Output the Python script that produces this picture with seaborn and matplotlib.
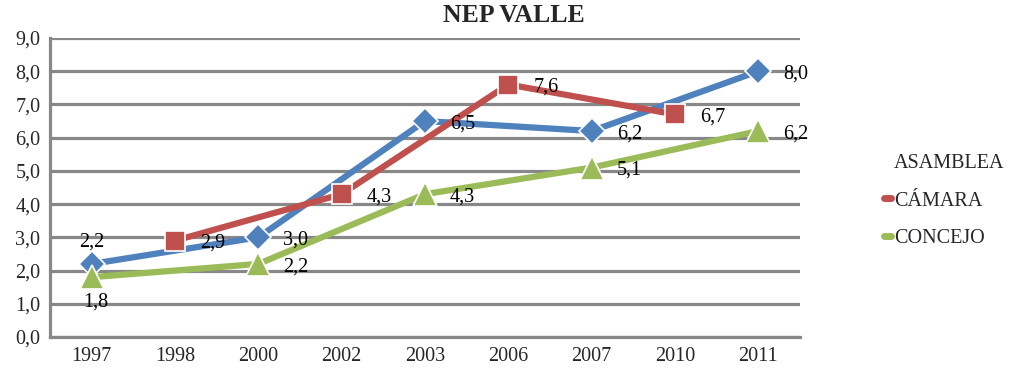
import pandas as pd
import numpy as np
import matplotlib
matplotlib.use("Agg")
import matplotlib.pyplot as plt
from matplotlib.lines import Line2D
import seaborn as sns

# Datos
anios = ['1997', '1998', '2000', '2002', '2003', '2006', '2007', '2010', '2011']
asamblea = [2.2, None, 3.0, None, 6.5, None, 6.2, None, 8.0]
camara = [None, 2.9, None, 4.3, None, 7.6, None, 6.7, None]
concejo = [1.8, None, 2.2, None, 4.3, None, 5.1, None, 6.2]
series = ['ASAMBLEA', 'CÁMARA', 'CONCEJO']
colores = ['#4F81BD', '#C0504D', '#9BBB59']
marcadores = ['D', 's', '^']
tam_marcador = [13, 15, 17]

filas = []
for nombre, valores in zip(series, [asamblea, camara, concejo]):
    for i, v in enumerate(valores):
        if v is not None:
            filas.append({'pos': i, 'anio': anios[i], 'valor': v, 'serie': nombre})
df = pd.DataFrame(filas)

sns.set_style("white")
plt.rcParams['font.family'] = ['Liberation Serif', 'DejaVu Serif']
fs = 14.5

fig = plt.figure(figsize=(10.19, 3.76), dpi=100)
ax = fig.add_axes([50 / 1019, 1 - 337 / 376, 750 / 1019, 299 / 376])

for nombre, color, m, ms in zip(series, colores, marcadores, tam_marcador):
    d = df[df['serie'] == nombre]
    sns.lineplot(data=d, x='pos', y='valor', ax=ax, color=color, linewidth=4.5,
                 marker=m, markersize=ms, markeredgecolor='white',
                 markeredgewidth=1.2, legend=False, zorder=3)

# Etiquetas de datos
for nombre in series:
    d = df[df['serie'] == nombre]
    for _, r in d.iterrows():
        txt = f"{r['valor']:.1f}".replace('.', ',')
        if r['pos'] == 0 and nombre == 'ASAMBLEA':
            off, ha, va = (0, 9), 'center', 'bottom'
        elif r['pos'] == 0 and nombre == 'CONCEJO':
            off, ha, va = (3, -11), 'center', 'top'
        else:
            off, ha, va = (18, -2), 'left', 'center'
        ax.annotate(txt, (r['pos'], r['valor']), xytext=off, textcoords='offset points',
                    ha=ha, va=va, fontsize=fs, color='black', zorder=5)

ax.set_xlim(-0.5, len(anios) - 0.5)
ax.set_ylim(0, 9)
ax.set_xticks(range(len(anios)))
ax.set_xticklabels(anios)
yt = np.arange(0, 10, 1)
ax.set_yticks(yt)
ax.set_yticklabels([f"{v:.1f}".replace('.', ',') for v in yt])
ax.tick_params(axis='both', length=0, labelsize=fs, pad=7)
ax.set_xlabel('')
ax.set_ylabel('')
ax.grid(axis='y', color='#888888', linewidth=2.3, zorder=0)
ax.set_axisbelow(True)
for s in ['top', 'right']:
    ax.spines[s].set_visible(False)
for s in ['left', 'bottom']:
    ax.spines[s].set_color('#888888')
    ax.spines[s].set_linewidth(2.3)

fig.text(514 / 1019, 1 - 15 / 376, 'NEP VALLE', fontsize=18.5, fontweight='bold',
         ha='center', va='center')

handles = [Line2D([], [], color='none'),
           Line2D([], [], color=colores[1], linewidth=5, solid_capstyle='round'),
           Line2D([], [], color=colores[2], linewidth=5, solid_capstyle='round')]
fig.legend(handles, series, loc='center left', bbox_to_anchor=(866 / 1019, 1 - 201 / 376),
           frameon=False, fontsize=fs, handlelength=0.35, handletextpad=0.15,
           labelspacing=0.9)

fig.savefig('out.png', dpi=100)
